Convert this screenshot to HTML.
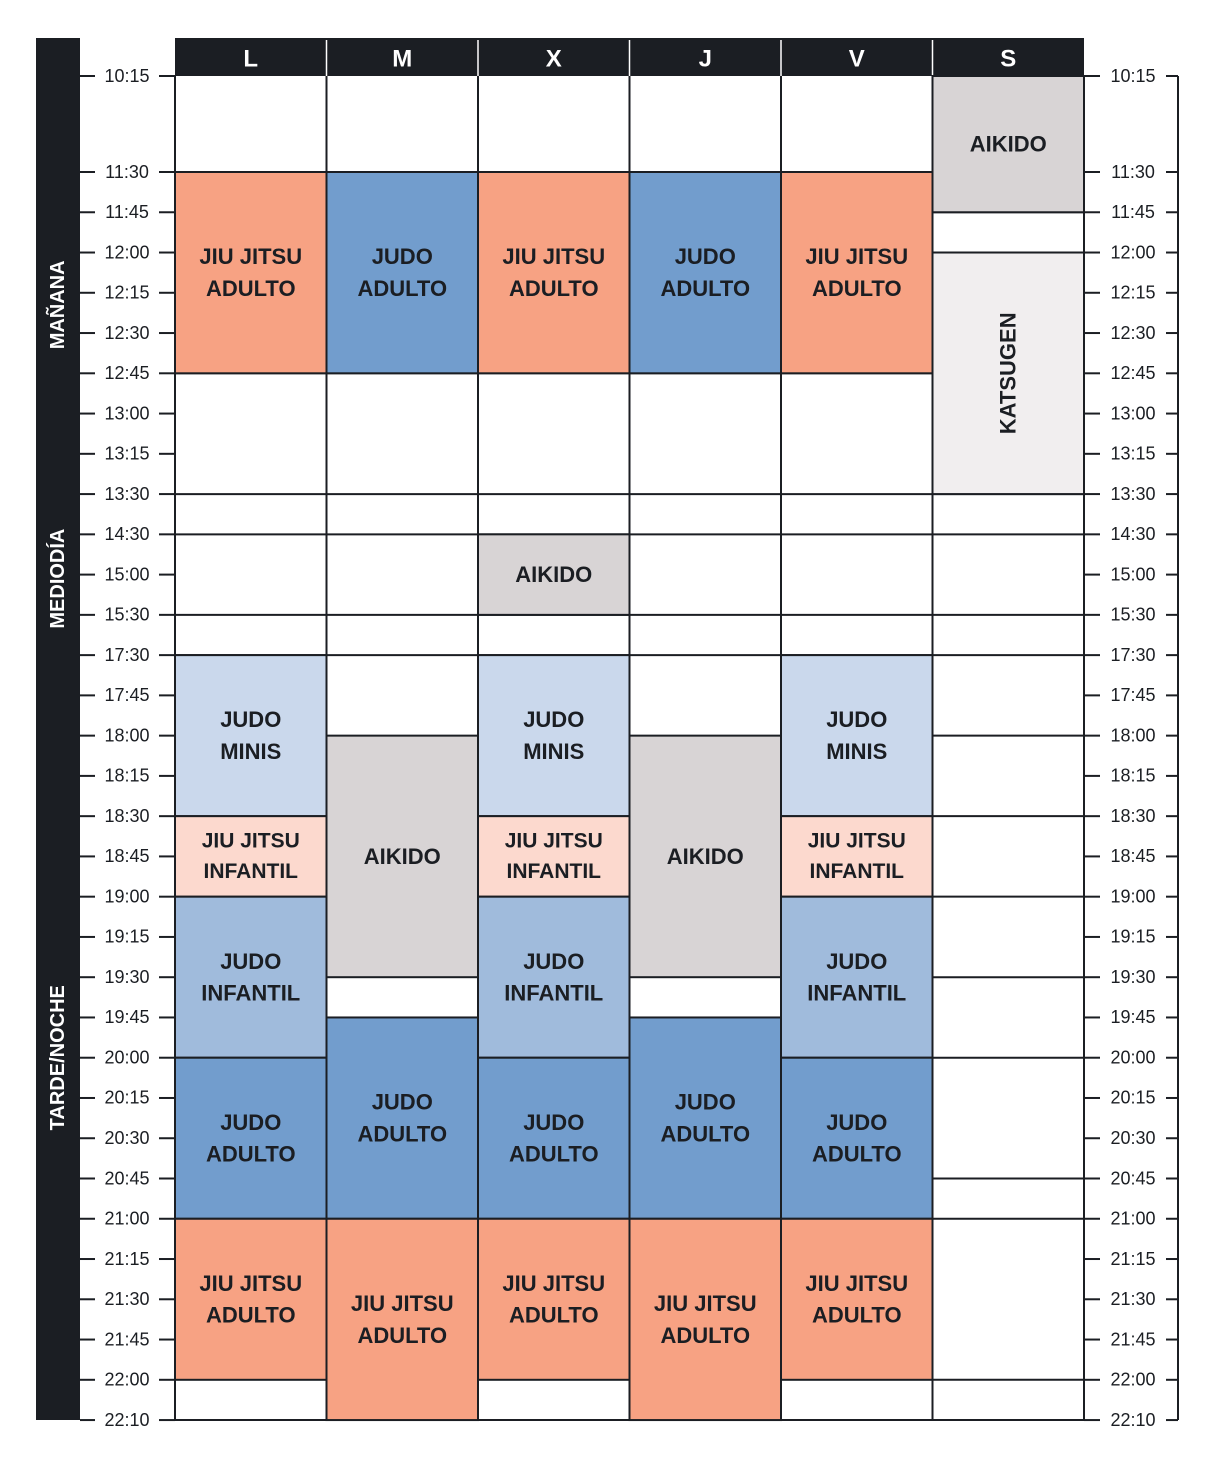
<!DOCTYPE html>
<html><head><meta charset="utf-8"><style>
html,body{margin:0;padding:0;background:#fff;}
svg{display:block;font-family:"Liberation Sans",sans-serif;}
</style></head><body>
<svg id="c" width="1219" height="1474" viewBox="0 0 1219 1474"></svg>
<script>
const days = ["L","M","X","J","V","S"];
const times = ["10:15","11:30","11:45","12:00","12:15","12:30","12:45","13:00","13:15","13:30","14:30","15:00","15:30","17:30","17:45","18:00","18:15","18:30","18:45","19:00","19:15","19:30","19:45","20:00","20:15","20:30","20:45","21:00","21:15","21:30","21:45","22:00","22:10"];
const blockDay = [0,0,0,0,0,0, 1,1,1,1, 2,2,2,2,2,2,2, 3,3,3,3, 4,4,4,4,4,4, 5,5];
const blockStart = [1,13,17,19,23,27, 1,15,22,27, 1,10,13,17,19,23,27, 1,15,22,27, 1,13,17,19,23,27, 0,3];
const blockEnd = [6,17,19,23,27,31, 6,21,27,32, 6,12,17,19,23,27,31, 6,21,27,32, 6,17,19,23,27,31, 2,9];
const blockType = ["jja","jm","jji","ji","ja","jja", "ja","ai","ja","jja", "jja","ai","jm","jji","ji","ja","jja", "ja","ai","ja","jja", "jja","jm","jji","ji","ja","jja", "ai","ka"];
const fullLines = [6,9,10,12,13,32];
const sLines = [2,3,15,17,19,21,23,26,27,31];
const sections = ["MAÑANA","MEDIODÍA","TARDE/NOCHE"];
const sectionCenter = [4.3,11.1,23];

const typeInfo = {
  jja:{fill:"#F7A283",lines:["JIU JITSU","ADULTO"],fs:22},
  ja:{fill:"#729DCD",lines:["JUDO","ADULTO"],fs:22},
  jm:{fill:"#CAD8EC",lines:["JUDO","MINIS"],fs:22},
  jji:{fill:"#FCD9CE",lines:["JIU JITSU","INFANTIL"],fs:21},
  ji:{fill:"#A0BBDC",lines:["JUDO","INFANTIL"],fs:22},
  ai:{fill:"#D8D4D5",lines:["AIKIDO"],fs:22},
  ka:{fill:"#F1EEEF",lines:["KATSUGEN"],fs:22,rot:true}
};
const NS="http://www.w3.org/2000/svg";
const svg=document.getElementById('c');
const X0=175, CW=151.5, INK="#1b1e23";
function yOf(i){ return i===0?76:172+(i-1)*40.26; }
function xOf(d){ return X0+d*CW; }
function mk(tag,attrs,parent){const e=document.createElementNS(NS,tag);for(const k in attrs)e.setAttribute(k,attrs[k]);(parent||svg).appendChild(e);return e;}

// left dark bar
let bar=mk('rect',{x:36,y:38,width:44,height:1382,fill:INK});


sections.forEach((s,i)=>{
  const cy=yOf(sectionCenter[i]);
  const t=mk('text',{x:58,y:cy,fill:"#fff","font-size":20,"font-weight":"bold","text-anchor":"middle","dominant-baseline":"central",transform:`rotate(-90 58 ${cy})`});
  t.textContent=s;
  
  
});
// header
let hdr=mk('rect',{x:X0,y:38,width:CW*6,height:38,fill:INK});


days.forEach((d,i)=>{
  const t=mk('text',{x:xOf(i)+CW/2,y:60,fill:"#fff","font-size":24,"font-weight":"bold","text-anchor":"middle","dominant-baseline":"middle"});
  t.textContent=d;
  
  
  if(i>0){const l=mk('line',{x1:xOf(i),x2:xOf(i),y1:40,y2:76,stroke:"#fff","stroke-width":1.5});
    
    }
});
// grid lines
fullLines.forEach(i=>{
  const l=mk('line',{x1:X0,x2:X0+CW*6,y1:yOf(i),y2:yOf(i),stroke:INK,"stroke-width":2});
  
  
});
sLines.forEach(i=>{
  const l=mk('line',{x1:xOf(5),x2:xOf(6),y1:yOf(i),y2:yOf(i),stroke:INK,"stroke-width":2});
  
  
});
// extra line under JJ adulto blocks ending at 31 (already in blocks) - blocks
blockDay.forEach((d,k)=>{
  const info=typeInfo[blockType[k]];
  const x=xOf(d), y1=yOf(blockStart[k]), y2=yOf(blockEnd[k]);
  const g=mk('g',{});
  
  
  mk('rect',{x:x,y:y1,width:CW,height:y2-y1,fill:info.fill,stroke:INK,"stroke-width":2},g);
  const cx=x+CW/2, cy=(y1+y2)/2;
  if(info.rot){
    const t=mk('text',{x:cx,y:cy,fill:INK,"font-size":info.fs,"font-weight":"bold","text-anchor":"middle","dominant-baseline":"central",transform:`rotate(-90 ${cx} ${cy})`},g);
    t.textContent=info.lines[0];
  } else {
    const lh=info.fs*1.45, n=info.lines.length;
    info.lines.forEach((s,j)=>{
      const t=mk('text',{x:cx,y:cy+(j-(n-1)/2)*lh,fill:INK,"font-size":info.fs,"font-weight":"bold","text-anchor":"middle","dominant-baseline":"central"},g);
      t.textContent=s;
    });
  }
});
// column vertical lines
for(let d=0;d<=6;d++){
  const l=mk('line',{x1:xOf(d),x2:xOf(d),y1:76,y2:1420,stroke:INK,"stroke-width":2});
  
  
}
// right axis line
let ra=mk('line',{x1:1178,x2:1178,y1:76,y2:1420,stroke:INK,"stroke-width":2});


// ticks & labels
times.forEach((tm,i)=>{
  const y=yOf(i);
  [[80,95],[159,175],[1084,1100],[1166,1178]].forEach(p=>{
    const l=mk('line',{x1:p[0],x2:p[1],y1:y,y2:y,stroke:INK,"stroke-width":2});
    
    
  });
  const a=mk('text',{x:127,y:y+1,fill:INK,"font-size":18,"text-anchor":"middle","dominant-baseline":"middle"});
  a.textContent=tm;
  
  
  const b=mk('text',{x:1133,y:y+1,fill:INK,"font-size":18,"text-anchor":"middle","dominant-baseline":"middle"});
  b.textContent=tm;
  
  
});
</script>
</body></html>
